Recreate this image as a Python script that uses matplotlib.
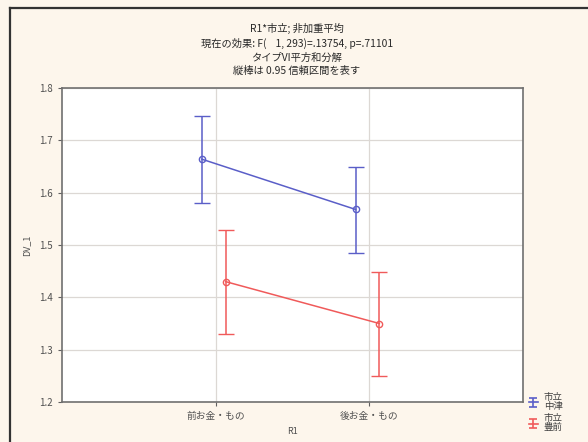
import matplotlib
matplotlib.use("Agg")
import matplotlib.pyplot as plt
from matplotlib.lines import Line2D
import numpy as np

plt.rcParams['font.family'] = ['Noto Sans CJK JP', 'DejaVu Sans']

categories = ["前お金・もの", "後お金・もの"]
series_names = ["市立\n中津", "市立\n豊前"]
means = [[1.664, 1.568], [1.430, 1.350]]
lower = [[1.581, 1.484], [1.330, 1.250]]
upper = [[1.747, 1.650], [1.528, 1.448]]
colors = ["#5a5ec8", "#f05a5a"]
offsets = [-0.09, 0.065]

title_lines = ["R1*市立; 非加重平均",
               "現在の効果: F(    1, 293)=.13754, p=.71101",
               "タイプVI平方和分解",
               "縦棒は 0.95 信頼区間を表す"]
yticks = [1.2, 1.3, 1.4, 1.5, 1.6, 1.7, 1.8]

bg = "#fdf6ec"
fig = plt.figure(figsize=(5.88, 4.42), dpi=100, facecolor=bg)
ax = fig.add_axes([62/588, 40/442, 461/588, 314/442])
ax.set_facecolor("white")

xs = [1, 2]
handles = []
for i in range(2):
    x = [v + offsets[i] for v in xs]
    m = means[i]
    yerr = [[m[j] - lower[i][j] for j in range(2)], [upper[i][j] - m[j] for j in range(2)]]
    ax.errorbar(x, m, yerr=yerr, color=colors[i], lw=1.1, marker='o', ms=4.5,
                mfc='none', mec=colors[i], mew=1.0, capsize=6, capthick=1.1,
                elinewidth=1.1, zorder=3)
    h = ax.errorbar([np.nan], [np.nan], yerr=[0.1], color=colors[i], lw=1.2,
                    capsize=3, capthick=1.2, elinewidth=1.2, label=series_names[i])
    handles.append(h)

ax.set_xlim(0, 3)
ax.set_ylim(1.2, 1.8)
ax.set_xticks(xs)
ax.set_xticklabels(categories)
ax.set_yticks(yticks)
ax.set_yticklabels([f"{v:.1f}" for v in yticks])
ax.grid(True, color="#dcd8d4", lw=0.9)
ax.set_axisbelow(True)
for s in ax.spines.values():
    s.set_color("#707070")
    s.set_linewidth(1.2)
ax.tick_params(axis='both', colors="#606060", labelsize=7, length=3, width=0.8, labelcolor="#505050")
ax.set_ylabel("DV_1", fontsize=6.5, color="#505050", labelpad=6)
ax.set_xlabel("R1", fontsize=6.5, color="#505050", labelpad=4)

fig.text(0.505, 0.948, "\n".join(title_lines), ha='center', va='top', fontsize=7.4,
         color="#282828", linespacing=1.42)

leg = ax.legend(handles=handles, loc='lower left', bbox_to_anchor=(1.0, -0.115),
                frameon=False, fontsize=6.8, handlelength=1.0, labelspacing=0.35,
                handletextpad=0.6, borderaxespad=0.2)
for t in leg.get_texts():
    t.set_color("#404040")
    t.set_linespacing(1.0)

fig.add_artist(Line2D([10/588, 10/588], [0, 1 - 8/442], color="#333333", lw=1.6))
fig.add_artist(Line2D([10/588, 1], [1 - 8/442, 1 - 8/442], color="#333333", lw=1.6))

fig.savefig("out.png", dpi=100, facecolor=bg)
